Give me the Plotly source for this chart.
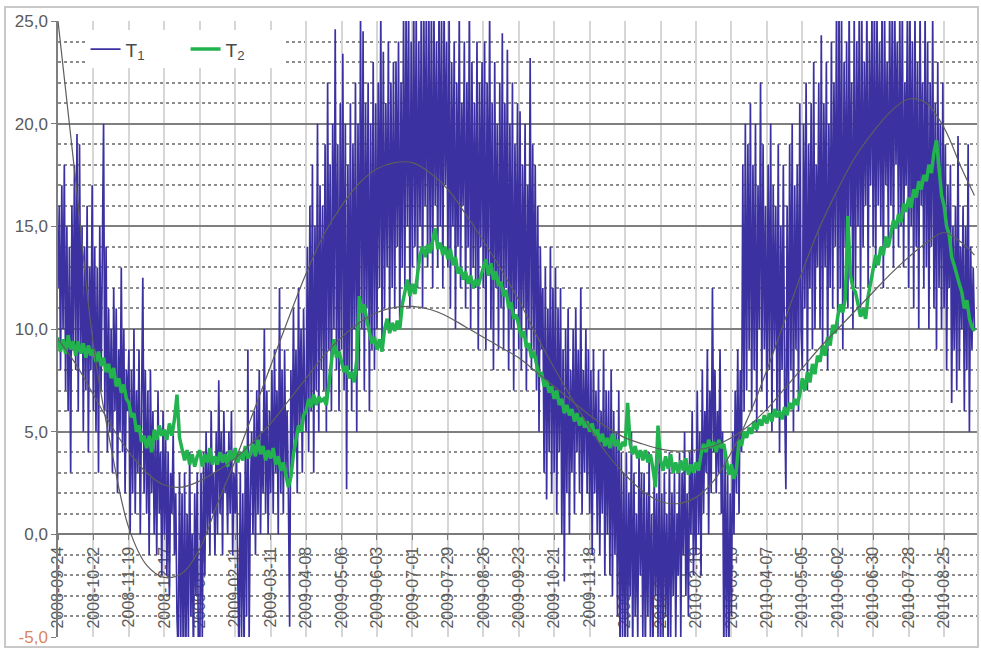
import pandas as pd
import plotly.graph_objects as go

START = "2008-09-24"

# T1: daily values, one row per 14-day block
t1_blocks = [
    [12, 16, 8, 17, 10, 18, 7, 15, 6, 14, 3, 16, 9, 18],
    [8, 19.5, 6, 19, 9, 15, 5, 14, 7, 16, 4, 13, 8, 17],
    [6, 14, 5, 13, 3, 15, 7, 12, 20, 6, 14, 4, 11, 5],
    [10, 3, 12, 6, 11, 2, 9, 5, 13, 4, 10, 2, 8, 6],
    [9, 0, 8, 2, 10, 1, 7, 3, 9, 0, 6, 12.5, 2, 8],
    [1, 7, -1, 8, 2, 6, 0, 5, -1, 7, 1, 4, -2, 6],
    [0, 5, -2, 4, -3, 3, 1, 5, -1, 2, -4, -6, 3, -5],
    [2, -7, 3, -6, 1, -5, 4, -4, 0, -6, 2, -3, 3, -7],
    [-6, 3, -5, 4, -2, 5, 0, 4, -1, 6, 1, 3, -1, 5],
    [0, 7.5, 1, 5, -1, 6, 2, 4, 0, 5, 1, 6, -1, 3],
    [1, 4, -2, -6, 3, -5, 2, -6, 4, -4, 9, -5, 2, 5],
    [0, 6, -1, 7, 1, 8, 0, 5, 2, 10, 1, 7, 0, 6],
    [2, 8, 1, 9, 3, 7, 0, 12, 2, 8, 1, 9, 3, 6],
    [2, -4.5, 8, 3, 11, 4, 9, 2, 12, 5, 10, 3, 11, 6],
    [5, 14, 4, 16, 6, 18, 3, 15, 7, 20, 5, 17, 8, 16],
    [7, 19, 5, 22, 9, 18, 6, 20, 10, 24.6, 8, 19, 6, 21],
    [9, 23.4, 7, 20, 2.2, 18, 8, 21, 6, 19, 10, 22, 5, 20],
    [8, 25.5, 10, 24.5, 7, 21, 11, 22, 6, 20, 9, 23, 8, 21],
    [10, 22, 12, 25.5, 9, 23.5, 11, 21, 13, 24, 10, 22, 12, 23],
    [11, 23, 14, 24, 10, 22, 13, 25.5, 12, 26, 15, 25.5, 11, 24],
    [13, 26, 14, 25.5, 12, 24, 15, 26, 11, 25.5, 16, 26, 13, 25.5],
    [14, 26, 12, 25.5, 16, 24, 13, 26, 15, 25.5, 12, 26, 17, 24],
    [13, 25.5, 11, 23, 15, 24, 10, 22, 14, 25.5, 12, 21, 16, 24],
    [11, 22, 14, 26, 10, 23, 13, 21, 12, 24, 9, 22, 14, 23],
    [12, 24, 9, 22, 13, 25.5, 10, 21, 8, 23, 12, 20, 9, 22],
    [11, 24.4, 9, 21, 12, 23.6, 8, 20, 10, 22, 7, 19, 11, 21],
    [9, 20.6, 8, 18, 11, 20, 7, 17, 10, 23.2, 8, 19, 9, 18],
    [7, 16, 5, 14, 9, 12, 3, 13, 1.7, 11, 4, 14, 2, 12],
    [3, 13, 1, 11, 4, 12, 0, 9, -2.3, 10, 2, 11, 0, 8],
    [3, 10, 1, 11, 4, 9, 2, 12, 1, 8, 3, 10, 2, 9],
    [1, 8, -1, 9, 2, 7, 0, 8, -1, 6, 1, 9, -2, 7],
    [0, 7, -2, 8, -3, 6, -1, 5, -4, 7, -6, 4, -5, 3],
    [-6, 4, -5, 2, -3, 5, -6, 3, -4, 1, -5, 4, -2, 3],
    [-5, 3, -6, 2, -4, 4, -5, 1, -6, 3, -3, 2, -5, 4],
    [-6, 2, -5, 3, -4, 1, -6, 4, -5, 2, -3, 3, -5, 1],
    [-2, 4, -5, 3, -1, 5, -3, 2, -4, 4, 0, 6, -2, 3],
    [-1, 7, 0, 5, -2, 8, 1, 6, 3, 9, 0, 7, 2, 12],
    [4, 8, 2, 6, 3, 9, 1, 5, -6, 4, -5, 3, -6, 2],
    [-4, 5, 0, 7, 2, 9, 1, 8, 4, 18, 6, 20, 7, 19],
    [9, 21, 6, 18, 8, 20, 5, 17, 10, 22, 7, 19, 9, 16],
    [6, 18, 8, 20, 5, 17, 9, 16, 6, 19, 4, 15, 8, 18],
    [7, 2.2, 16, 6, 19, 8, 20, 5, 17, 9, 18, 6, 21, 10],
    [8, 20, 11, 22, 7, 19, 12, 21, 9, 23, 10, 18, 13, 22],
    [10, 24.3, 9, 21, 13, 23, 8, 20, 12, 24, 11, 22, 14, 25.5],
    [10, 26, 12, 25.5, 9, 23, 14, 24, 11, 26, 15, 22, 10, 25.5],
    [12, 24, 15, 26, 11, 25.5, 14, 23, 16, 26, 12, 24, 17, 25.5],
    [14, 26, 13, 25.5, 16, 24, 15, 26, 12, 25.5, 17, 23, 14, 26],
    [16, 25.5, 13, 26, 18, 24, 14, 25.5, 15, 26, 13, 22, 17, 25.5],
    [12, 26, 15, 24, 11, 25.5, 14, 23, 10, 26, 16, 22, 12, 25.5],
    [13, 24, 10, 22, 14, 25.5, 11, 21, 9, 23, 12, 20, 10, 22],
    [11, 19, 8, 17, 12, 18, 6.4, 15, 9, 16, 7, 19.4, 8, 14],
    [10, 16, 6, 15, 8, 19, 5, 14, 9, 13, 10],
]

# T2: values every 2 days, one row per 14-day block
t2_blocks = [
    [9.6, 8.9, 9.5, 8.8, 9.7, 9.0, 9.4],
    [8.7, 9.4, 8.8, 9.3, 8.6, 9.2, 8.7],
    [9.0, 8.4, 8.9, 8.2, 8.6, 7.9, 8.3],
    [7.6, 8.1, 7.2, 7.6, 6.9, 7.3, 6.6],
    [6.4, 5.7, 5.9, 5.0, 5.3, 4.5, 4.8],
    [4.2, 4.8, 4.0, 5.1, 4.6, 5.3, 4.8],
    [5.1, 4.6, 5.4, 4.8, 5.6, 6.8, 4.7],
    [4.2, 3.6, 4.1, 3.4, 3.9, 3.3, 3.8],
    [4.1, 3.3, 3.9, 3.5, 4.2, 3.4, 3.8],
    [3.4, 4.0, 3.5, 3.9, 3.3, 4.1, 3.6],
    [4.2, 3.5, 4.0, 3.6, 4.3, 3.7, 3.9],
    [4.4, 3.8, 4.6, 3.9, 4.3, 3.6, 4.1],
    [3.7, 4.2, 3.4, 3.8, 3.1, 3.5, 2.9],
    [2.3, 2.8, 3.9, 4.6, 5.3, 5.0, 5.8],
    [6.0, 6.6, 6.2, 6.8, 6.3, 6.7, 6.5],
    [6.6, 6.3, 7.2, 8.4, 9.5, 8.6, 8.9],
    [8.4, 7.9, 8.2, 7.6, 7.9, 7.4, 8.5],
    [11.6, 10.8, 11.2, 10.4, 9.8, 9.3, 9.6],
    [9.0, 9.5, 8.9, 10.0, 10.5, 9.8, 10.3],
    [9.9, 10.4, 10.0, 11.2, 11.8, 12.4, 11.6],
    [12.2, 11.7, 12.6, 13.6, 14.0, 13.5, 14.1],
    [13.7, 14.3, 14.9, 13.9, 14.2, 13.6, 14.0],
    [13.4, 13.9, 13.1, 13.5, 12.7, 13.0, 12.4],
    [12.8, 12.2, 12.6, 12.0, 12.4, 12.1, 12.6],
    [13.0, 13.4, 12.6, 13.2, 12.4, 12.8, 12.1],
    [12.3, 11.6, 11.9, 11.0, 11.3, 10.5, 10.7],
    [10.2, 9.6, 9.9, 9.1, 9.3, 8.6, 8.9],
    [8.3, 7.7, 7.9, 7.2, 7.5, 6.9, 7.2],
    [6.6, 7.0, 6.3, 6.6, 5.9, 6.3, 5.8],
    [6.1, 5.5, 5.9, 5.3, 5.7, 5.2, 5.5],
    [5.0, 5.4, 4.8, 5.1, 4.5, 4.9, 4.3],
    [4.7, 4.2, 4.9, 4.3, 4.6, 4.1, 4.5],
    [4.3, 6.4, 4.4, 3.9, 4.3, 3.7, 4.1],
    [3.6, 4.1, 3.5, 3.9, 3.2, 2.3, 5.3],
    [3.6, 3.1, 3.8, 3.2, 3.9, 3.0, 3.5],
    [3.0, 3.6, 3.1, 3.7, 2.9, 3.4, 3.0],
    [3.5, 3.1, 3.9, 4.4, 4.0, 4.6, 4.2],
    [4.5, 4.0, 4.6, 4.2, 4.4, 3.6, 2.9],
    [3.4, 2.7, 3.2, 4.6, 4.3, 5.0, 4.7],
    [5.2, 4.9, 5.5, 5.1, 5.6, 5.3, 5.8],
    [5.4, 5.9, 5.5, 6.1, 5.7, 6.0, 5.6],
    [6.2, 5.8, 6.4, 6.1, 6.6, 6.3, 6.8],
    [7.6, 7.0, 7.9, 7.4, 8.3, 7.8, 8.7],
    [8.4, 9.2, 8.7, 9.6, 9.2, 10.2, 9.8],
    [10.6, 11.2, 10.8, 11.5, 15.5, 12.6, 12.0],
    [11.8, 11.2, 10.6, 11.0, 10.5, 11.6, 12.3],
    [12.9, 13.6, 13.1, 14.0, 13.6, 14.5, 14.0],
    [14.7, 15.3, 14.9, 15.6, 15.2, 16.1, 15.7],
    [16.4, 15.9, 16.8, 16.4, 17.2, 16.8, 17.5],
    [17.2, 18.0, 17.6, 18.6, 19.2, 17.9, 16.5],
    [16.0, 15.0, 14.6, 13.5, 13.1, 12.6, 12.2],
    [11.8, 11.0, 11.4, 10.5, 10.1, 9.9],
]

# Trend curves sampled every 14 days (+ last day)
t1_trend = [25.0, 17.2, 9.2, 4.2, 0.3, -1.5, -2.1, -1.9, -0.7, 1.5, 3.6, 5.9, 8.2,
            10.5, 12.7, 14.6, 16.0, 17.1, 17.8, 18.1, 18.1, 17.6, 16.8, 15.6, 14.3,
            12.9, 11.4, 9.7, 8.1, 6.6, 5.2, 3.9, 2.9, 2.1, 1.6, 1.5, 1.8, 2.6, 4.0,
            5.8, 8.0, 10.4, 12.8, 15.0, 16.8, 18.4, 19.6, 20.6, 21.2, 21.0, 19.8,
            17.8, 16.5]
t2_trend = [9.5, 8.3, 6.8, 5.3, 4.0, 3.0, 2.4, 2.3, 2.6, 3.1, 3.7, 4.5, 5.4, 6.5,
            7.6, 8.7, 9.6, 10.3, 10.8, 11.05, 11.1, 10.95, 10.6, 10.1, 9.6, 9.1,
            8.6, 7.9, 7.2, 6.5, 5.8, 5.2, 4.7, 4.4, 4.15, 4.05, 4.1, 4.3, 4.7, 5.3,
            6.1, 7.1, 8.1, 9.1, 10.0, 10.9, 11.8, 12.7, 13.5, 14.2, 14.7, 14.2, 13.6]
TREND_END = "2010-09-18"

y_tick_vals = [-5, 0, 5, 10, 15, 20, 25]
y_tick_text = ["<span style='color:#d9865e'>-5,0</span>", "0,0", "5,0", "10,0",
               "15,0", "20,0", "25,0"]

t1 = [v for row in t1_blocks for v in row]
t2 = [v for row in t2_blocks for v in row]
d1 = pd.date_range(START, periods=len(t1), freq="D")
d2 = pd.date_range(START, periods=len(t2), freq="2D")
dtrend = list(pd.date_range(START, periods=len(t1_trend) - 1, freq="14D")) + [pd.Timestamp(TREND_END)]
x_ticks = pd.date_range(START, "2010-08-25", freq="28D")
x_tick_text = [d.strftime("%Y-%m-%d") for d in x_ticks]

C1 = "#3b31a0"
C2 = "#22b34f"
CT = "#5e5e5e"

fig = go.Figure()
fig.add_trace(go.Scatter(x=d1, y=t1, mode="lines", name="T<sub>1</sub>",
                         line=dict(color=C1, width=1.7)))
fig.add_trace(go.Scatter(x=d2, y=t2, mode="lines", name="T<sub>2</sub>",
                         line=dict(color=C2, width=3.5)))
fig.add_trace(go.Scatter(x=dtrend, y=t1_trend, mode="lines", showlegend=False,
                         line=dict(color=CT, width=1.2, shape="spline", smoothing=1.0)))
fig.add_trace(go.Scatter(x=dtrend, y=t2_trend, mode="lines", showlegend=False,
                         line=dict(color=CT, width=1.2, shape="spline", smoothing=1.0)))

W, H = 981, 653
ml, mr, mt, mb = 58, 4, 21, 16
pw, ph = W - ml - mr, H - mt - mb

fig.update_layout(
    width=W, height=H,
    margin=dict(l=ml, r=mr, t=mt, b=mb, pad=0),
    paper_bgcolor="white", plot_bgcolor="white",
    font=dict(family="Liberation Sans, Arial, sans-serif", color="#5a5a5a"),
    showlegend=True,
    legend=dict(orientation="h", x=0.03, y=0.985, xanchor="left", yanchor="top",
                bgcolor="white", font=dict(size=19, color="#4a4a4a"),
                entrywidth=55, entrywidthmode="pixels", itemwidth=30,
                tracegroupgap=0),
    xaxis=dict(
        type="date",
        range=[START, "2010-09-20"],
        tickmode="array", tickvals=x_ticks, ticktext=x_tick_text,
        tickangle=-90, tickfont=dict(size=16, color="#5a5a5a"),
        ticks="outside", ticklen=5, tickcolor="#7a7a7a",
        showgrid=True, gridcolor="#d6d6d6", gridwidth=1.5,
        showline=True, linecolor="#7a7a7a", linewidth=2,
        anchor="free", position=5 / 30,
        layer="below traces", zeroline=False, automargin=False,
    ),
    yaxis=dict(
        range=[-5, 25],
        tickmode="array", tickvals=y_tick_vals, ticktext=y_tick_text,
        tickfont=dict(size=17, color="#5a5a5a"),
        ticks="outside", ticklen=5, tickcolor="#7a7a7a",
        showgrid=True, gridcolor="#7f7f7f", gridwidth=2,
        minor=dict(dtick=1, tick0=0, showgrid=True, gridcolor="#8c8c8c",
                   griddash="dot", gridwidth=1.5),
        showline=True, linecolor="#7f7f7f", linewidth=1.5,
        zeroline=False, automargin=False,
    ),
    shapes=[
        dict(type="rect", xref="paper", yref="paper",
             x0=(5 - ml) / pw, x1=(978 - ml) / pw,
             y0=-10 / ph, y1=1 + 14 / ph,
             line=dict(color="#c8c8c8", width=2), fillcolor="rgba(0,0,0,0)",
             layer="below"),
    ],
)

fig.write_html("out.html",
               config={"displayModeBar": False},
               post_script="document.body.style.margin='0';document.body.style.overflow='hidden';")
